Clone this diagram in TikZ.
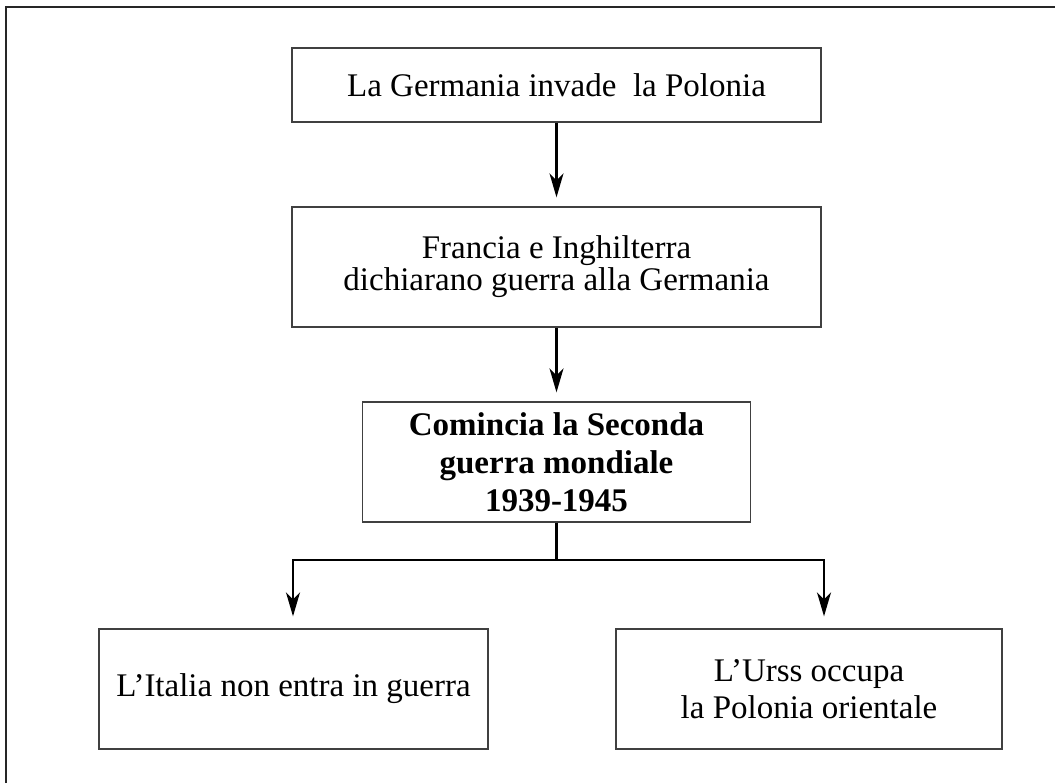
\documentclass[tikz,border=0pt]{standalone}
\usepackage{fontspec}
\setmainfont{Liberation Serif}
\usetikzlibrary{arrows.meta}

\begin{document}
\begin{tikzpicture}[x=0.5pt,y=-0.5pt,
  every node/.style={font=\fontsize{16.5}{16}\selectfont},
  evento/.style={draw=black!75,line width=0.65pt,align=center,inner sep=0pt,minimum height=60pt},
  freccia/.style={line width=1.2pt,line join=miter,-{Stealth[length=12pt,width=7pt,inset=3.5pt]}}]

\pgfmathsetmacro{\XC}{556.5}
\pgfmathsetmacro{\YB}{560}

\useasboundingbox (0,0) rectangle (1055,783);

% cornice
\draw[line width=0.8pt,black!85] (6,783)--(6,7)--(1055,7);

% riquadri
\draw (\XC,85) node (invasione) [evento,minimum width=264.5pt,minimum height=37pt] {La Germania invade~ la Polonia};
\draw (\XC,267) node (dichiarazione) [evento,minimum width=264.5pt] {Francia e Inghilterra\\dichiarano guerra alla Germania};
\draw (\XC,462) node (guerra) [evento,minimum width=194pt,font=\fontsize{16.5}{19}\selectfont\bfseries] {Comincia la Seconda\\guerra mondiale\\1939-1945};
\draw (293.5,689) node (italia) [evento,minimum width=194.5pt] {L'Italia non entra in guerra};
\draw (809,689) node (urss) [evento,minimum width=193pt,font=\fontsize{16.5}{18.5}\selectfont] {L'Urss occupa\\la Polonia orientale};

% frecce
\draw[freccia,shorten >=4.5pt] (invasione.south)--(dichiarazione.north);
\draw[freccia,shorten >=4.5pt] (dichiarazione.south)--(guerra.north);

% biforcazione
\coordinate (bivioS) at (293,\YB);
\coordinate (bivioD) at (824,\YB);
\draw[freccia,shorten >=6pt] (guerra.south) |- (bivioS)--(bivioS |- italia.north);
\draw[freccia,shorten >=6pt] (guerra.south) |- (bivioD)--(bivioD |- urss.north);
\end{tikzpicture}
\end{document}
